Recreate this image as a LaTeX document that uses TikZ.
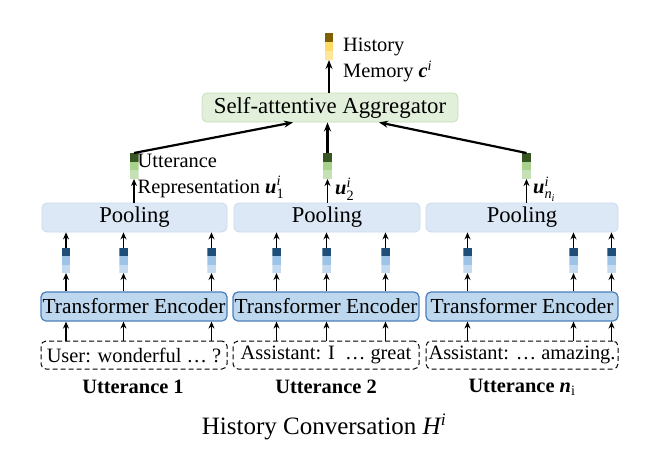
\documentclass[tikz,border=0pt]{standalone}
\usepackage{fontspec}
\setmainfont{Liberation Serif}
\usetikzlibrary{arrows.meta,calc}
\definecolor{poolfill}{HTML}{DCE8F5}
\definecolor{poolborder}{HTML}{C9DAEE}
\definecolor{encfill}{HTML}{BDD7EE}
\definecolor{encborder}{HTML}{4A7EBB}
\definecolor{aggfill}{HTML}{E2EFDA}
\definecolor{aggborder}{HTML}{C5E0B4}
\definecolor{bdark}{HTML}{1F4E79}
\definecolor{bmid}{HTML}{9DC3E6}
\definecolor{blight}{HTML}{C5DAF0}
\definecolor{gdark}{HTML}{375623}
\definecolor{gmid}{HTML}{A9D18E}
\definecolor{glight}{HTML}{C5E0B4}
\definecolor{hdark}{HTML}{7F6000}
\definecolor{hmid}{HTML}{FFD966}
\definecolor{hlight}{HTML}{FFE699}
\begin{document}
\begin{tikzpicture}[x=1pt,y=-1pt,
  poolbox/.style={draw=poolborder, fill=poolfill, rounded corners=5pt, minimum height=29pt, line width=0.8pt, inner sep=0pt, font=\fontsize{22.6}{26}\selectfont},
  encbox/.style={draw=encborder, fill=encfill, rounded corners=5pt, minimum height=29pt, line width=1.2pt, inner sep=0pt, font=\fontsize{21.4}{24}\selectfont},
  uttbox/.style={draw, dash pattern=on 5pt off 3pt, rounded corners=5pt, minimum height=28pt, line width=1pt, inner sep=0pt, font=\fontsize{20.4}{24}\selectfont},
  aggbox/.style={draw=aggborder, fill=aggfill, rounded corners=5pt, minimum height=29pt, line width=0.8pt, inner sep=0pt, font=\fontsize{22.8}{26}\selectfont},
  lbl/.style={inner sep=0pt, font=\fontsize{20.4}{26}\selectfont},
  bold lbl/.style={inner sep=0pt, font=\fontsize{20.4}{24}\selectfont\bfseries},
  tribar/.style n args={3}{inner sep=0pt, outer sep=0pt, path picture={
    \fill[#1] (path picture bounding box.north west) rectangle ($(path picture bounding box.north east)!1/3!(path picture bounding box.south east)$);
    \fill[#2] ($(path picture bounding box.north west)!1/3!(path picture bounding box.south west)$) rectangle ($(path picture bounding box.north east)!2/3!(path picture bounding box.south east)$);
    \fill[#3] ($(path picture bounding box.north west)!2/3!(path picture bounding box.south west)$) rectangle (path picture bounding box.south east);}},
  bluebar/.style={tribar={bdark}{bmid}{blight}, minimum width=8.5pt, minimum height=25pt},
  greenbar/.style={tribar={gdark}{gmid}{glight}, minimum width=9pt, minimum height=26pt},
  goldbar/.style={tribar={hdark}{hmid}{hlight}, minimum width=8.5pt, minimum height=27pt},
  arr/.style={-{Stealth[length=7pt,width=6pt]}, line width=1.6pt},
  bigarr/.style={-{Stealth[length=9pt,width=7pt]}, line width=2.2pt}
]
\useasboundingbox (0,0) rectangle (652,460);

% aggregator and history memory
\node[aggbox, minimum width=256pt] (agg) at (330,107.5) {Self-attentive Aggregator};
\node[goldbar] (h) at (329,46.5) {};
\node[lbl, anchor=west, align=left] (hl) at (343,60) {History\\Memory {\bfseries\itshape c}$^{\mathit{i}}$};

% pooling
\node[poolbox, minimum width=185pt] (p1) at (134.5,217.5) {Pooling};
\node[poolbox, minimum width=186pt] (p2) at (327,217.5) {Pooling};
\node[poolbox, minimum width=192pt] (p3) at (522,217.5) {Pooling};

% encoders
\node[encbox, minimum width=186pt] (e1) at (134,306.5) {Transformer Encoder};
\node[encbox, minimum width=186pt] (e2) at (326,306.5) {Transformer Encoder};
\node[encbox, minimum width=192pt] (e3) at (522,306.5) {Transformer Encoder};

% utterances
\node[uttbox, minimum width=186pt] (t1) at (134,355) {User: wonderful … ?};
\node[uttbox, minimum width=186pt] (t2) at (326,355) {Assistant: I \ … great};
\node[uttbox, minimum width=192pt] (t3) at (522,355) {Assistant: … amazing.};

\node[bold lbl] (n1) at (133,387) {Utterance 1};
\node[bold lbl] (n2) at (326,387) {Utterance 2};
\node[bold lbl] (n3) at (522,387) {Utterance {\itshape n}$_{\mathrm{i}}$};
\node[inner sep=0pt, font=\fontsize{25}{30}\selectfont] (hc) at (324,427) {History Conversation $\mathit{H}^{\mathit{i}}$};

% token bars
\node[bluebar] (b11) at (66,260.5) {};
\node[bluebar] (b12) at (123.5,260.5) {};
\node[bluebar] (b13) at (211.5,260.5) {};
\node[bluebar] (b21) at (276.5,260.5) {};
\node[bluebar] (b22) at (326.5,260.5) {};
\node[bluebar] (b23) at (385.5,260.5) {};
\node[bluebar] (b31) at (467.5,260.5) {};
\node[bluebar] (b32) at (573.5,260.5) {};
\node[bluebar] (b33) at (611.5,260.5) {};

\foreach \k in {1,2,3}{
  \foreach \j in {1,2,3}{
    \draw[arr] (b\k\j |- t\k.north) -- (b\k\j |- e\k.south);
    \draw[arr] (b\k\j |- e\k.north) -- (b\k\j.south);
    \draw[arr] (b\k\j.north) -- (b\k\j |- p\k.south);
  }
}

% utterance representations
\node[greenbar] (g1) at (134,166) {};
\node[greenbar] (g2) at (327.5,166) {};
\node[greenbar] (g3) at (526.5,166) {};
\node[lbl, anchor=west, align=left] (ul) at (137.5,176) {Utterance\\Representation {\bfseries\itshape u}$^{\mathit{i}}_{\mathrm{1}}$};
\node[lbl, anchor=west] (u2) at (335,189) {{\bfseries\itshape u}$^{\mathit{i}}_{\mathrm{2}}$};
\node[lbl, anchor=west] (u3) at (533,189) {{\bfseries\itshape u}$^{\mathit{i}}_{\mathit{n_i}}$};

\foreach \k in {1,2,3}{
  \draw[arr] (g\k |- p\k.north) -- (g\k.south);
}

\coordinate (a1) at ([xshift=-37pt]agg.south);
\coordinate (a3) at ([xshift=49pt]agg.south);
\draw[bigarr] (g1.north) -- (a1);
\draw[bigarr] (g2.north) -- (g2 |- agg.south);
\draw[bigarr] (g3.north) -- (a3);
\draw[bigarr] (h |- agg.north) -- (h.south);
\end{tikzpicture}
\end{document}
